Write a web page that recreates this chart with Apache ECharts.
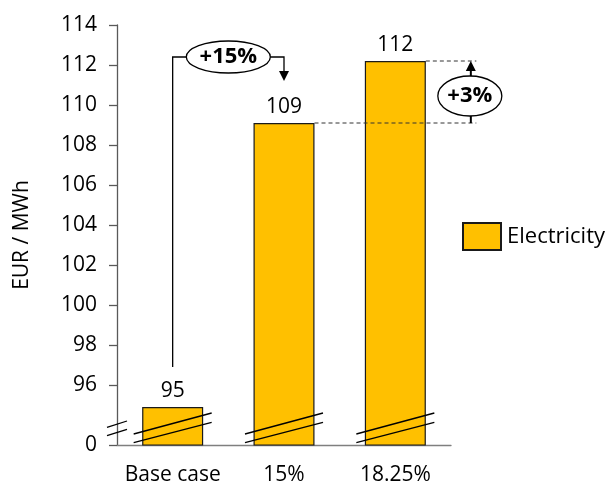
<!DOCTYPE html>
<html><head><meta charset="utf-8">
<script src="https://cdn.jsdelivr.net/npm/echarts@6/dist/echarts.min.js"></script>
<style>html,body{margin:0;padding:0;background:#fff}#c{width:612px;height:491px}</style>
</head><body><div id="c"></div>
<script>
// ---- data ----
const categories = ['Base case', '15%', '18.25%'];
const values = [94.9, 109.1, 112.2];
const valueLabels = ['95', '109', '112'];
const seriesName = 'Electricity';
const yTickValues = [93, 96, 98, 100, 102, 104, 106, 108, 110, 112, 114];
const yTickLabels = ['0', '96', '98', '100', '102', '104', '106', '108', '110', '112', '114'];
const axisFloor = 93;      // broken axis: bottom shown as 0
const axisCeil = 114;
const increaseLabels = ['+15%', '+3%'];
const connectorValues = [96.9, 112.4, 111.2]; // start above base bar, top run, arrow tip

// ---- chart ----
const FONT = '"Open Sans", "Liberation Sans", sans-serif';
const GRID_LEFT = 117;
const BAR_W = 61;
const chart = echarts.init(document.getElementById('c'), null, {renderer: 'canvas'});
chart.setOption({
  animation: false,
  textStyle: {fontFamily: FONT},
  grid: {left: GRID_LEFT, right: 161, top: 25, bottom: 46},
  legend: {
    data: [seriesName], left: 462, top: 222, orient: 'vertical', padding: 0,
    itemWidth: 38, itemHeight: 27, itemGap: 0, icon: 'rect',
    textStyle: {fontSize: 22, color: '#000', fontFamily: FONT, padding: [0, 0, 0, 1]}
  },
  xAxis: {
    type: 'category', data: categories,
    axisTick: {show: false},
    axisLine: {lineStyle: {color: '#7f7f7f', width: 1.3}},
    axisLabel: {fontSize: 21, color: '#000', margin: 20, fontFamily: FONT, interval: 0, hideOverlap: false}
  },
  yAxis: {
    type: 'value', min: axisFloor, max: axisCeil, interval: 1,
    splitLine: {show: false},
    name: 'EUR / MWh', nameLocation: 'middle', nameGap: 84,
    nameTextStyle: {fontSize: 21, color: '#000', fontFamily: FONT},
    axisLine: {show: true, lineStyle: {color: '#595959', width: 1.3}},
    axisTick: {show: true, length: 8, customValues: yTickValues, lineStyle: {color: '#595959', width: 1.3}},
    axisLabel: {
      fontSize: 21, color: '#000', margin: 20, fontFamily: FONT,
      customValues: yTickValues,
      formatter: v => { const i = yTickValues.indexOf(v); return i >= 0 ? yTickLabels[i] : ''; }
    }
  },
  series: [{
    name: seriesName, type: 'bar', data: values, barWidth: BAR_W,
    itemStyle: {color: '#FFC000', borderColor: '#1a1a1a', borderWidth: 1.2},
    label: {
      show: true, position: 'top', distance: 5, fontSize: 21, color: '#000', fontFamily: FONT,
      formatter: p => valueLabels[p.dataIndex]
    }
  }]
});

// ---- annotations computed through the axes ----
const px = (i, v) => chart.convertToPixel({gridIndex: 0}, [i, v]);
const G = [];
const lineSt = {stroke: '#000', lineWidth: 1.3, fill: null};

// break marks
const y0 = px(0, axisFloor)[1];
G.push({type: 'line', z: 100, shape: {x1: GRID_LEFT - 10, y1: y0 - 17.7, x2: GRID_LEFT + 10, y2: y0 - 24}, style: lineSt});
G.push({type: 'line', z: 100, shape: {x1: GRID_LEFT - 10, y1: y0 - 9.3, x2: GRID_LEFT + 10, y2: y0 - 15.7}, style: lineSt});
categories.forEach((c, i) => {
  const cx = px(i, axisFloor)[0];
  G.push({type: 'line', z: 100, shape: {x1: cx - 39, y1: y0 - 11, x2: cx + 39, y2: y0 - 32}, style: lineSt});
  G.push({type: 'line', z: 100, shape: {x1: cx - 39, y1: y0 - 2.3, x2: cx + 39, y2: y0 - 22.7}, style: lineSt});
});

// dashed reference lines and +3% marker
const c1 = px(1, values[1]), c2 = px(2, values[2]);
const dashEnd = c2[0] + 81;
const dashSt = {stroke: '#333', lineWidth: 1, lineDash: [4, 3]};
G.push({type: 'line', z: 100, shape: {x1: c1[0] + BAR_W / 2, y1: c1[1], x2: dashEnd, y2: c1[1]}, style: dashSt});
G.push({type: 'line', z: 100, shape: {x1: c2[0] + BAR_W / 2, y1: c2[1], x2: dashEnd, y2: c2[1]}, style: dashSt});
const ax = c2[0] + 75.5;
const ecy = (c1[1] + c2[1]) / 2 + 4;
G.push({type: 'line', z: 100, shape: {x1: ax, y1: ecy - 20, x2: ax, y2: c2[1] + 9}, style: {stroke: '#000', lineWidth: 2}});
G.push({type: 'polygon', z: 100, shape: {points: [[ax, c2[1]], [ax - 5, c2[1] + 10], [ax + 5, c2[1] + 10]]}, style: {fill: '#000'}});
G.push({type: 'line', z: 100, shape: {x1: ax, y1: ecy + 20, x2: ax, y2: c1[1]}, style: {stroke: '#000', lineWidth: 2}});
G.push({type: 'ellipse', z: 101, shape: {cx: ax - 1, cy: ecy, rx: 32, ry: 20}, style: {fill: '#fff', stroke: '#000', lineWidth: 1.3}});
G.push({type: 'text', z: 102, x: ax - 1, y: ecy, style: {text: increaseLabels[1], align: 'center', verticalAlign: 'middle', fontSize: 22, fontWeight: 'bold', fontFamily: FONT, fill: '#000'}});

// +15% connector
const s0 = px(0, connectorValues[0]);
const tY = px(0, connectorValues[1])[1];
const tip = px(1, connectorValues[2]);
const ecx = (s0[0] + tip[0]) / 2;
G.push({type: 'polyline', z: 100, shape: {points: [[s0[0], s0[1]], [s0[0], tY], [ecx - 42, tY]]}, style: lineSt});
G.push({type: 'polyline', z: 100, shape: {points: [[ecx + 42, tY], [tip[0], tY], [tip[0], tip[1] - 10]]}, style: lineSt});
G.push({type: 'polygon', z: 100, shape: {points: [[tip[0], tip[1]], [tip[0] - 5, tip[1] - 10], [tip[0] + 5, tip[1] - 10]]}, style: {fill: '#000'}});
G.push({type: 'ellipse', z: 101, shape: {cx: ecx, cy: tY, rx: 42, ry: 16}, style: {fill: '#fff', stroke: '#000', lineWidth: 1.3}});
G.push({type: 'text', z: 102, x: ecx, y: tY, style: {text: increaseLabels[0], align: 'center', verticalAlign: 'middle', fontSize: 22, fontWeight: 'bold', fontFamily: FONT, fill: '#000'}});

chart.setOption({graphic: {elements: G}});
</script></body></html>
